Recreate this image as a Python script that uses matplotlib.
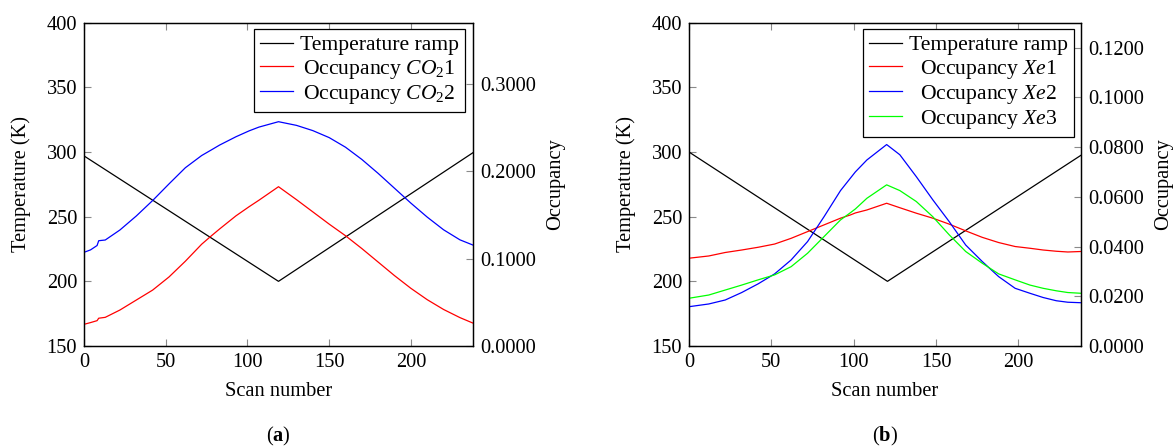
import numpy as np
import matplotlib
matplotlib.use("Agg")
import matplotlib.pyplot as plt

plt.rcParams.update({
    "font.family": ["Liberation Serif", "DejaVu Serif"],
    "font.size": 14.7,
    "mathtext.fontset": "custom",
    "mathtext.rm": "Liberation Serif",
    "mathtext.it": "Liberation Serif:italic",
    "mathtext.bf": "Liberation Serif:bold",
})

# ---- panel (a): CO2 sites ----
ramp_scan_a = [0, 119, 238]
ramp_temp_a = [297, 200, 299.5]

scan_a = [0, 4, 8, 9, 13, 22, 32, 42, 52, 62, 72, 78, 83, 93, 101, 107, 119,
          130, 140, 150, 160, 170, 180, 190, 200, 210, 220, 230, 238]
occ_co2_1 = [0.0248, 0.0268, 0.0290, 0.0318, 0.0328, 0.0412, 0.0526, 0.0640,
             0.0790, 0.0970, 0.1165, 0.1262, 0.1340, 0.1490, 0.1594, 0.1668,
             0.1823, 0.1675, 0.1535, 0.1395, 0.1262, 0.1115, 0.0960, 0.0805,
             0.0660, 0.0530, 0.0418, 0.0325, 0.0262]
occ_co2_2 = [0.1072, 0.1100, 0.1150, 0.1205, 0.1213, 0.1328, 0.1488, 0.1665,
             0.1855, 0.2040, 0.2180, 0.2245, 0.2300, 0.2395, 0.2462, 0.2505,
             0.2567, 0.2525, 0.2465, 0.2385, 0.2275, 0.2135, 0.1975, 0.1805,
             0.1635, 0.1475, 0.1330, 0.1215, 0.1155]

# ---- panel (b): Xe sites ----
ramp_scan_b = [0, 120.5, 238]
ramp_temp_b = [300, 200, 297.5]

scan_b = [0, 12, 22, 32, 42, 52, 62, 72, 82, 92, 98, 101, 108, 120, 128, 138,
          148, 158, 168, 178, 188, 198, 207, 215, 223, 230, 238]
occ_xe_1 = [0.0353, 0.0362, 0.0376, 0.0386, 0.0397, 0.0410, 0.0433, 0.0460,
            0.0487, 0.0514, 0.0527, 0.0535, 0.0547, 0.0574, 0.0556, 0.0534,
            0.0514, 0.0490, 0.0463, 0.0437, 0.0416, 0.0400, 0.0393, 0.0386,
            0.0381, 0.0378, 0.0380]
occ_xe_2 = [0.0158, 0.0169, 0.0185, 0.0215, 0.0250, 0.0290, 0.0346, 0.0420,
            0.0520, 0.0625, 0.0675, 0.0700, 0.0748, 0.0810, 0.0769, 0.0681,
            0.0588, 0.0500, 0.0406, 0.0340, 0.0279, 0.0232, 0.0212, 0.0195,
            0.0182, 0.0176, 0.0174]
occ_xe_3 = [0.0192, 0.0205, 0.0225, 0.0245, 0.0266, 0.0286, 0.0319, 0.0373,
            0.0440, 0.0507, 0.0536, 0.0551, 0.0594, 0.0648, 0.0625, 0.0581,
            0.0520, 0.0447, 0.0380, 0.0333, 0.0290, 0.0266, 0.0245, 0.0232,
            0.0222, 0.0215, 0.0212]

temp_ticks = [150, 200, 250, 300, 350, 400]
scan_ticks = [0, 50, 100, 150, 200]

W, H = 1173, 448
fig = plt.figure(figsize=(W / 100, H / 100), dpi=100)

TICK_COLOR = "#8a8a8a"
LW = 0.9


def make_panel(rect, ramp_scan, ramp_temp, series, occ_max, occ_ticks,
               legend_anchor, tag):
    ax_w = rect[2] * W
    ax_h = rect[3] * H
    ax = fig.add_axes(rect)
    ax.plot(ramp_scan, ramp_temp, color="black", lw=LW, label="Temperature ramp")
    ax.set_xlim(0, 238)
    ax.set_ylim(150, 400)
    ax.set_xticks(scan_ticks)
    ax.set_yticks(temp_ticks)
    ax.tick_params(axis="both", direction="in", length=5, width=0.8,
                   color=TICK_COLOR)
    ax.tick_params(axis="x", top=True, pad=5)
    ax.tick_params(axis="y", right=False, pad=5)
    ax.set_xlabel("Scan number")
    ax.set_ylabel("Temperature (K)")
    ax.xaxis.set_label_coords(0.5, -36 / ax_h)
    ax.yaxis.set_label_coords(-53 / ax_w, 0.5)

    ax2 = ax.twinx()
    for xs, ys, color, label in series:
        ax2.plot(xs, ys, color=color, lw=LW, label=label)
    ax2.set_ylim(0, occ_max)
    ax2.set_yticks(occ_ticks)
    ax2.set_yticklabels([f"{v:.4f}" for v in occ_ticks])
    ax2.tick_params(axis="y", direction="in", length=5, width=0.8,
                    color=TICK_COLOR, pad=5)
    ax2.set_ylabel("Occupancy")
    ax2.yaxis.set_label_coords(1 + 73 / ax_w, 0.5)

    for a in (ax, ax2):
        for sp in a.spines.values():
            sp.set_linewidth(0.9)
            sp.set_color("black")

    handles = ax.get_lines() + ax2.get_lines()
    leg = ax2.legend(handles, [h.get_label() for h in handles],
                     loc="upper right", bbox_to_anchor=legend_anchor,
                     borderaxespad=0, fancybox=False, framealpha=1,
                     edgecolor="black", borderpad=0.28, labelspacing=0.1,
                     handlelength=1.55, handletextpad=0.3, fontsize=15.6)
    leg.get_frame().set_linewidth(0.9)

    cx = rect[0] + rect[2] / 2
    fig.text(cx, (H - 436) / H, "(" + r"$\mathbf{" + tag + "}$" + ")",
             ha="center", va="center")
    return leg


leg_a = make_panel(
    [84 / W, 102 / H, 389 / W, 323.3 / H],
    ramp_scan_a, ramp_temp_a,
    [(scan_a, occ_co2_1, "#ff0000", r"Occupancy $CO_2$1"),
     (scan_a, occ_co2_2, "#0000ff", r"Occupancy $CO_2$2")],
    0.37, [0.0, 0.1, 0.2, 0.3], (0.979, 0.980), "a")

leg_b = make_panel(
    [689 / W, 102 / H, 392 / W, 323.3 / H],
    ramp_scan_b, ramp_temp_b,
    [(scan_b, occ_xe_1, "#ff0000", r"Occupancy $Xe$1"),
     (scan_b, occ_xe_2, "#0000ff", r"Occupancy $Xe$2"),
     (scan_b, occ_xe_3, "#00ff00", r"Occupancy $Xe$3")],
    0.13, [0.0, 0.02, 0.04, 0.06, 0.08, 0.10, 0.12], (0.982, 0.980), "b")

# centre each legend entry's text within its column
fig.canvas.draw()
renderer = fig.canvas.get_renderer()
for leg in (leg_a, leg_b):
    texts = leg.get_texts()
    widths = [t.get_window_extent(renderer).width for t in texts]
    wmax = max(widths)
    for t, w in zip(texts, widths):
        t.set_x((wmax - w) / 2)

fig.savefig("out.png", dpi=100)
